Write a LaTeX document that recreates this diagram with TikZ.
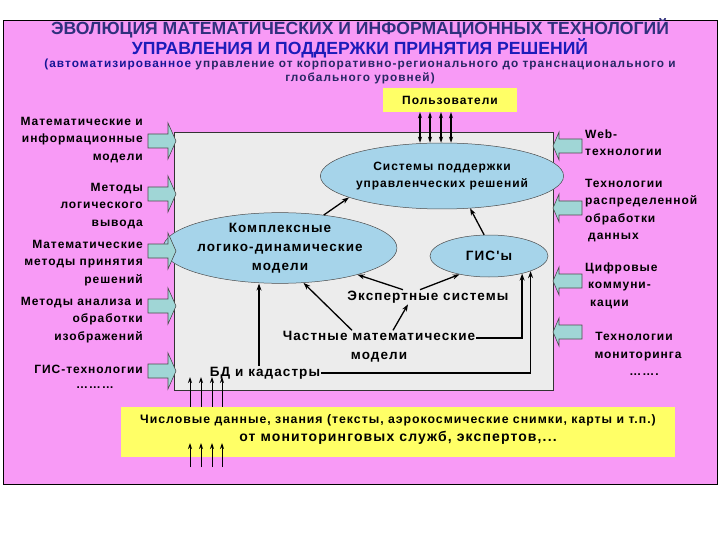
\documentclass[tikz,border=0pt]{standalone}
\usepackage{fontspec}
\setmainfont{Liberation Sans}
\newfontfamily\spacedfont[LetterSpace=8]{Liberation Sans}
\newfontfamily\subfont[LetterSpace=9]{Liberation Sans}
\usetikzlibrary{shapes.geometric,arrows.meta,calc}
\definecolor{pinkbg}{RGB}{248,154,246}
\definecolor{navyA}{RGB}{48,48,125}
\definecolor{navyB}{RGB}{28,28,185}
\definecolor{navyC}{RGB}{22,22,150}
\definecolor{navyD}{RGB}{38,38,100}
\definecolor{innergrey}{RGB}{236,236,236}
\definecolor{ellfill}{RGB}{166,212,234}
\definecolor{yel}{RGB}{255,255,102}
\definecolor{blockc}{RGB}{160,214,214}
\tikzset{
  ttl/.style={font=\bfseries\fontsize{17.6}{15}\selectfont, inner sep=0, align=center},
  subttl/.style={font=\subfont\bfseries\fontsize{11.8}{14}\selectfont, text=navyD, inner sep=0, align=center},
  sidetxt/.style={font=\spacedfont\bfseries\fontsize{12}{17.5}\selectfont, inner sep=0},
  ell/.style={ellipse, draw=black!70, line width=0.5, fill=ellfill, inner sep=0, align=center,
     font=\spacedfont\bfseries\fontsize{13.5}{19}\selectfont},
  intxt/.style={font=\spacedfont\bfseries\fontsize{13.5}{19}\selectfont, inner sep=1, align=center},
  yelbox/.style={fill=yel, draw=none, inner sep=0},
  conn/.style={-{Stealth[length=7pt,width=5pt]}, line width=1.3},
  thin/.style={-{Stealth[length=6pt,width=4pt]}, line width=0.9},
  lblock/.pic={\draw[fill=blockc, draw=black!70, line width=0.6]
      (-28,-7) -- (-8,-7) -- (-8,-18) -- (0,0) -- (-8,18) -- (-8,7) -- (-28,7) -- cycle;},
  rblock/.pic={\draw[fill=blockc, draw=black!70, line width=0.6]
      (29,-7) -- (6,-7) -- (6,-14) -- (0,0) -- (6,14) -- (6,7) -- (29,7) -- cycle;}
}
\begin{document}
\begin{tikzpicture}[x=1pt,y=-1pt]
\useasboundingbox (0,0) rectangle (720,540);
\fill[white] (0,0) rectangle (720,540);
\draw[fill=pinkbg, line width=0.8] (3,20) rectangle (717,484);
% titles
\node[ttl] (t1) at (360,38.5) {\textcolor{navyA}{ЭВОЛЮЦИЯ МАТЕМАТИЧЕСКИХ И ИНФОРМАЦИОННЫХ ТЕХНОЛОГИЙ}\\\textcolor{navyB}{УПРАВЛЕНИЯ И ПОДДЕРЖКИ ПРИНЯТИЯ РЕШЕНИЙ}};
\node[subttl] (t3) at (360,71.5) {\textcolor{navyC}{(автоматизированное} управление от корпоративно-регионального до транснационального и\\глобального уровней)};
% users
\node[yelbox, minimum width=134, minimum height=24, font=\spacedfont\bfseries\fontsize{12}{12}\selectfont] (usr) at (450,100) {Пользователи};
% inner box
\node[draw=black!80, fill=innergrey, line width=0.6, minimum width=379, minimum height=258, inner sep=0] (box) at (364,261.5) {};
% ellipses
\node[ell, minimum width=182, minimum height=66, font=\spacedfont\bfseries\fontsize{12}{16.5}\selectfont] (sys) at (442,176) {Системы поддержки\\управленческих решений};
\node[ell, minimum width=180, minimum height=70] (cld) at (280,248) {Комплексные\\логико-динамические\\модели};
\node[ell, minimum width=118, minimum height=42] (gis) at (489,256) {ГИС'ы};
% plain texts
\node[intxt] (exp) at (428,297) {Экспертные системы};
\node[intxt] (cm) at (379,347) {Частные математические\\модели};
\node[intxt] (bd) at (265,373) {БД и кадастры};
% connectors
\draw[conn] (cld.37) -- (sys.193);
\draw[conn] (gis.103) -- (sys.311);
\draw[conn] ([xshift=-25pt]exp.north) -- (cld.-19);
\draw[conn] ([xshift=-8pt]exp.north) -- (gis.212);
\draw[conn] ([xshift=14pt]cm.north) -- ([xshift=-20pt]exp.south);
\draw[conn] ([xshift=-27pt]cm.north) -- (cld.-56);
\draw[conn] ([yshift=9pt]cm.east) -| (gis.-28);
\draw[conn] (bd.east) -| (gis.-20);
\draw[conn] ([xshift=-6pt]bd.north) -- ([xshift=-6pt]bd.north |- cld.south);
% users arrows
\foreach \dx in {-30,-20,-9,1}{
  \draw[{Stealth[length=6pt,width=4pt]}-{Stealth[length=6pt,width=4pt]}, line width=1.1] ([xshift=\dx pt]usr.south) -- ([xshift=\dx pt]usr.south |- sys.north);
}
% bottom yellow
\node[yelbox, minimum width=554, minimum height=50] (bt) at (398,432) {};
\node[font=\spacedfont\bfseries\fontsize{12.3}{12.3}\selectfont, inner sep=0] (bt1) at (398,420) {Числовые данные, знания (тексты, аэрокосмические снимки, карты и т.п.)};
\node[font=\spacedfont\bfseries\fontsize{14}{14}\selectfont, inner sep=0] (bt2) at (398,438) {от мониторинговых служб, экспертов,...};
\foreach \x [count=\i] in {190,201,212,222}{
  \coordinate (up\i) at (\x,377);
  \draw[thin] (up\i |- bt.north) -- (up\i);
  \coordinate (lo\i) at (\x,443);
  \coordinate (lt\i) at (\x,467);
  \draw[thin] (lt\i) -- (lo\i);
}
% left block arrows and texts
\foreach \y in {141,194,251,306,371}{ \pic at (176,\y) {lblock}; }
\node[sidetxt, anchor=east, align=right] (l1) at (143,140) {Математические и\\информационные\\модели};
\node[sidetxt, anchor=east, align=right] (l2) at (143,206) {Методы\\логического\\вывода};
\node[sidetxt, anchor=east, align=right] (l3) at (143,263) {Математические\\методы принятия\\решений};
\node[sidetxt, anchor=east, align=right] (l4) at (143,320) {Методы анализа и\\обработки\\изображений};
\node[sidetxt, anchor=east] (l5) at (143,369) {ГИС-технологии};
\node[sidetxt] (l6) at (95,388) {………};
% right block arrows and texts
\foreach \y in {146,208,281,332}{ \pic at (553,\y) {rblock}; }
\node[sidetxt, anchor=west, align=left] (r1) at (585,142.5) {Web-\\технологии};
\node[sidetxt, anchor=west, align=left] (r2) at (585,210.5) {Технологии\\распределенной\\обработки\\\hspace*{3pt}данных};
\node[sidetxt, anchor=west, align=left] (r3) at (585,285.5) {Цифровые\\\hspace*{3pt}коммуни-\\\hspace*{5pt}кации};
\node[sidetxt, align=center] (r4) at (634,354) {Технологии\\\hspace*{8pt}мониторинга\\\hspace*{20pt}…….};
\end{tikzpicture}
\end{document}
